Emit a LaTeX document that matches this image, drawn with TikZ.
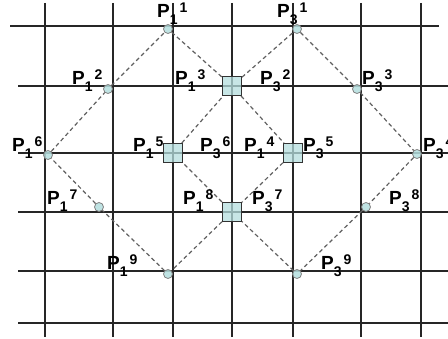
\documentclass[tikz,border=0pt]{standalone}
\usepackage{fontspec}
\setmainfont{Liberation Sans}
\usepackage{tikz}
\usetikzlibrary{positioning}

\definecolor{ptfill}{RGB}{180,222,222}
\newcommand{\digit}[1]{{\fontsize{14}{14}\selectfont\bfseries #1}}
\newcommand{\plab}[2]{P\raisebox{-7pt}{\digit{#1}}\hspace{2pt}\raisebox{5pt}{\digit{#2}}}

\begin{document}
\begin{tikzpicture}[
  x=1pt, y=-1pt,
  font=\fontsize{19}{19}\selectfont\bfseries,
  gridline/.style={black!85, line width=1.3pt},
  link/.style={gray!75!black, line width=1.2pt, dash pattern=on 4pt off 3pt},
  dot/.style={circle, draw=gray, fill=ptfill, fill opacity=0.85, inner sep=0pt, minimum size=9pt, line width=0.8pt},
  sq/.style={rectangle, draw=black!80, fill=ptfill, fill opacity=0.75, inner sep=0pt, minimum size=19pt, line width=1.1pt},
  lab/.style={anchor=base west, inner sep=0pt}
]
\useasboundingbox (0,0) rectangle (448,339);
\clip (0,0) rectangle (448,339);

% grid
\foreach \gx in {45,113,173,232,293,361,421}
  \draw[gridline] (\gx,3) -- (\gx,337);
\draw[gridline] (10,26) -- (439,26);
\foreach \gy in {86,153,212,271,323}
  \draw[gridline] (18,\gy) -- (448,\gy);

% shared points
\node[sq] (p13) at (232,86) {};
\node[sq] (p14) at (293,153) {};
\node[sq] (p15) at (173,153) {};
\node[sq] (p18) at (232,212) {};

% points of P1
\node[dot] (p11) at (168,29) {};
\node[dot] (p12) at (108,89) {};
\node[dot] (p16) at (48,155) {};
\node[dot] (p17) at (99,207) {};
\node[dot] (p19) at (168,274) {};

% points of P3
\node[dot] (p31) at (297,29) {};
\node[dot] (p33) at (357,89) {};
\node[dot] (p34) at (417,154) {};
\node[dot] (p38) at (366,207) {};
\node[dot] (p39) at (297,274) {};

% diamonds
\draw[link] (p11) -- (p13) -- (p14) -- (p18) -- (p19) -- (p17) -- (p16) -- (p12) -- (p11);
\draw[link] (p31) -- (p33) -- (p34) -- (p38) -- (p39) -- (p18) -- (p15) -- (p13) -- (p31);

% labels
\node[lab] (l11) at (157,18) {\plab{1}{1}};
\node[lab] (l31) at (277,18) {\plab{3}{1}};
\node[lab] (l12) at (72,85) {\plab{1}{2}};
\node[lab] (l13) at (175,85) {\plab{1}{3}};
\node[lab] (l32) at (260,85) {\plab{3}{2}};
\node[lab] (l33) at (362,85) {\plab{3}{3}};
\node[lab] (l16) at (12,152) {\plab{1}{6}};
\node[lab] (l15) at (133,152) {\plab{1}{5}};
\node[lab] (l36) at (200,152) {\plab{3}{6}};
\node[lab] (l14) at (244,152) {\plab{1}{4}};
\node[lab] (l35) at (303,152) {\plab{3}{5}};
\node[lab] (l34) at (423,152) {\plab{3}{4}};
\node[lab] (l17) at (47,205) {\plab{1}{7}};
\node[lab] (l18) at (183,205) {\plab{1}{8}};
\node[lab] (l37) at (252,205) {\plab{3}{7}};
\node[lab] (l38) at (389,205) {\plab{3}{8}};
\node[lab] (l19) at (107,270) {\plab{1}{9}};
\node[lab] (l39) at (321,270) {\plab{3}{9}};
\end{tikzpicture}
\end{document}
